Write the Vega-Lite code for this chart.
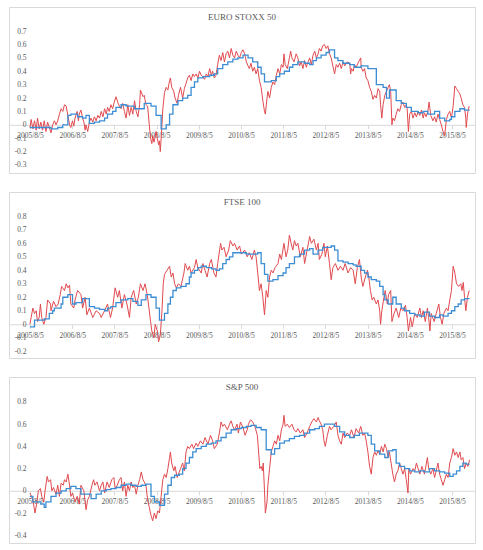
{
  "$schema": "https://vega.github.io/schema/vega-lite/v6.json",
  "padding": {"left": 8, "top": 6, "right": 9, "bottom": 5},
  "background": "white",
  "spacing": 17,
  "datasets": {
    "e_r": [
      {"t":2005.59,"v":-0.02},{"t":2005.62,"v":0.04},{"t":2005.66,"v":-0.03},{"t":2005.70,"v":0.03},{"t":2005.74,"v":-0.04},{"t":2005.77,"v":0.05},{"t":2005.81,"v":-0.03},{"t":2005.85,"v":0.02},{"t":2005.89,"v":-0.04},{"t":2005.93,"v":0.03},{"t":2005.97,"v":-0.05},{"t":2006.01,"v":0.02},{"t":2006.05,"v":-0.02},{"t":2006.09,"v":-0.06},{"t":2006.13,"v":0.0},{"t":2006.17,"v":0.03},{"t":2006.21,"v":0.0},{"t":2006.25,"v":0.03},{"t":2006.29,"v":0.08},{"t":2006.33,"v":0.12},{"t":2006.37,"v":0.1},{"t":2006.41,"v":0.15},{"t":2006.45,"v":0.14},{"t":2006.49,"v":0.07},{"t":2006.53,"v":0.0},{"t":2006.56,"v":-0.02},{"t":2006.60,"v":0.03},{"t":2006.63,"v":-0.01},{"t":2006.66,"v":0.05},{"t":2006.71,"v":0.1},{"t":2006.74,"v":0.03},{"t":2006.76,"v":0.08},{"t":2006.80,"v":0.11},{"t":2006.84,"v":0.05},{"t":2006.87,"v":0.02},{"t":2006.90,"v":-0.04},{"t":2006.92,"v":0.0},{"t":2006.96,"v":-0.05},{"t":2007.00,"v":0.02},{"t":2007.04,"v":0.05},{"t":2007.08,"v":0.02},{"t":2007.12,"v":0.06},{"t":2007.16,"v":0.03},{"t":2007.20,"v":0.07},{"t":2007.24,"v":0.05},{"t":2007.28,"v":0.1},{"t":2007.32,"v":0.06},{"t":2007.36,"v":0.12},{"t":2007.40,"v":0.08},{"t":2007.43,"v":0.13},{"t":2007.47,"v":0.1},{"t":2007.51,"v":0.15},{"t":2007.55,"v":0.12},{"t":2007.59,"v":0.17},{"t":2007.63,"v":0.21},{"t":2007.67,"v":0.17},{"t":2007.71,"v":0.14},{"t":2007.75,"v":0.12},{"t":2007.79,"v":0.16},{"t":2007.83,"v":0.1},{"t":2007.87,"v":0.05},{"t":2007.91,"v":0.15},{"t":2007.95,"v":0.07},{"t":2007.99,"v":0.13},{"t":2008.03,"v":0.08},{"t":2008.07,"v":0.18},{"t":2008.11,"v":0.1},{"t":2008.15,"v":0.06},{"t":2008.19,"v":0.15},{"t":2008.21,"v":0.26},{"t":2008.27,"v":0.21},{"t":2008.30,"v":0.22},{"t":2008.34,"v":0.15},{"t":2008.38,"v":0.14},{"t":2008.42,"v":0.0},{"t":2008.45,"v":-0.1},{"t":2008.48,"v":-0.14},{"t":2008.50,"v":-0.08},{"t":2008.53,"v":-0.13},{"t":2008.56,"v":-0.09},{"t":2008.58,"v":-0.05},{"t":2008.61,"v":-0.1},{"t":2008.64,"v":-0.15},{"t":2008.66,"v":-0.12},{"t":2008.68,"v":-0.2},{"t":2008.72,"v":0.0},{"t":2008.74,"v":0.12},{"t":2008.78,"v":0.24},{"t":2008.82,"v":0.28},{"t":2008.86,"v":0.26},{"t":2008.90,"v":0.33},{"t":2008.92,"v":0.35},{"t":2008.95,"v":0.28},{"t":2009.00,"v":0.25},{"t":2009.03,"v":0.2},{"t":2009.08,"v":0.16},{"t":2009.11,"v":0.22},{"t":2009.16,"v":0.28},{"t":2009.21,"v":0.2},{"t":2009.25,"v":0.27},{"t":2009.29,"v":0.31},{"t":2009.33,"v":0.35},{"t":2009.37,"v":0.37},{"t":2009.41,"v":0.33},{"t":2009.45,"v":0.38},{"t":2009.49,"v":0.36},{"t":2009.53,"v":0.38},{"t":2009.57,"v":0.35},{"t":2009.61,"v":0.4},{"t":2009.65,"v":0.37},{"t":2009.69,"v":0.36},{"t":2009.73,"v":0.34},{"t":2009.77,"v":0.38},{"t":2009.81,"v":0.36},{"t":2009.85,"v":0.42},{"t":2009.89,"v":0.37},{"t":2009.92,"v":0.4},{"t":2009.96,"v":0.35},{"t":2010.00,"v":0.37},{"t":2010.04,"v":0.45},{"t":2010.08,"v":0.52},{"t":2010.12,"v":0.48},{"t":2010.16,"v":0.54},{"t":2010.20,"v":0.47},{"t":2010.24,"v":0.53},{"t":2010.28,"v":0.55},{"t":2010.32,"v":0.5},{"t":2010.36,"v":0.57},{"t":2010.40,"v":0.52},{"t":2010.44,"v":0.5},{"t":2010.48,"v":0.55},{"t":2010.52,"v":0.52},{"t":2010.56,"v":0.5},{"t":2010.60,"v":0.54},{"t":2010.64,"v":0.56},{"t":2010.68,"v":0.53},{"t":2010.72,"v":0.47},{"t":2010.76,"v":0.44},{"t":2010.79,"v":0.42},{"t":2010.83,"v":0.46},{"t":2010.87,"v":0.4},{"t":2010.91,"v":0.43},{"t":2010.95,"v":0.38},{"t":2010.99,"v":0.42},{"t":2011.03,"v":0.33},{"t":2011.07,"v":0.28},{"t":2011.11,"v":0.18},{"t":2011.15,"v":0.1},{"t":2011.17,"v":0.08},{"t":2011.21,"v":0.2},{"t":2011.23,"v":0.25},{"t":2011.27,"v":0.2},{"t":2011.31,"v":0.28},{"t":2011.35,"v":0.32},{"t":2011.39,"v":0.3},{"t":2011.43,"v":0.37},{"t":2011.47,"v":0.42},{"t":2011.51,"v":0.38},{"t":2011.55,"v":0.45},{"t":2011.59,"v":0.43},{"t":2011.61,"v":0.53},{"t":2011.64,"v":0.45},{"t":2011.69,"v":0.42},{"t":2011.74,"v":0.5},{"t":2011.77,"v":0.55},{"t":2011.80,"v":0.5},{"t":2011.85,"v":0.47},{"t":2011.90,"v":0.53},{"t":2011.94,"v":0.5},{"t":2011.98,"v":0.44},{"t":2012.02,"v":0.47},{"t":2012.06,"v":0.42},{"t":2012.10,"v":0.48},{"t":2012.14,"v":0.43},{"t":2012.16,"v":0.45},{"t":2012.22,"v":0.5},{"t":2012.26,"v":0.45},{"t":2012.30,"v":0.52},{"t":2012.34,"v":0.55},{"t":2012.38,"v":0.5},{"t":2012.42,"v":0.53},{"t":2012.45,"v":0.57},{"t":2012.49,"v":0.55},{"t":2012.53,"v":0.59},{"t":2012.57,"v":0.6},{"t":2012.61,"v":0.57},{"t":2012.65,"v":0.59},{"t":2012.69,"v":0.53},{"t":2012.73,"v":0.5},{"t":2012.77,"v":0.44},{"t":2012.81,"v":0.38},{"t":2012.85,"v":0.45},{"t":2012.89,"v":0.43},{"t":2012.93,"v":0.46},{"t":2012.97,"v":0.42},{"t":2013.01,"v":0.47},{"t":2013.05,"v":0.44},{"t":2013.11,"v":0.47},{"t":2013.17,"v":0.46},{"t":2013.19,"v":0.38},{"t":2013.21,"v":0.42},{"t":2013.25,"v":0.4},{"t":2013.28,"v":0.45},{"t":2013.32,"v":0.43},{"t":2013.38,"v":0.47},{"t":2013.43,"v":0.5},{"t":2013.44,"v":0.43},{"t":2013.48,"v":0.4},{"t":2013.52,"v":0.42},{"t":2013.56,"v":0.35},{"t":2013.60,"v":0.33},{"t":2013.64,"v":0.28},{"t":2013.68,"v":0.25},{"t":2013.72,"v":0.19},{"t":2013.76,"v":0.22},{"t":2013.80,"v":0.2},{"t":2013.84,"v":0.27},{"t":2013.88,"v":0.25},{"t":2013.90,"v":0.15},{"t":2013.93,"v":0.05},{"t":2013.96,"v":0.15},{"t":2014.00,"v":0.22},{"t":2014.04,"v":0.25},{"t":2014.08,"v":0.28},{"t":2014.11,"v":0.3},{"t":2014.14,"v":0.25},{"t":2014.17,"v":0.0},{"t":2014.19,"v":0.05},{"t":2014.23,"v":0.03},{"t":2014.27,"v":0.08},{"t":2014.31,"v":0.12},{"t":2014.35,"v":0.1},{"t":2014.39,"v":0.15},{"t":2014.43,"v":0.17},{"t":2014.47,"v":0.13},{"t":2014.51,"v":0.15},{"t":2014.53,"v":0.12},{"t":2014.56,"v":-0.05},{"t":2014.59,"v":0.08},{"t":2014.63,"v":0.1},{"t":2014.67,"v":0.05},{"t":2014.71,"v":0.09},{"t":2014.75,"v":0.06},{"t":2014.79,"v":0.1},{"t":2014.83,"v":0.07},{"t":2014.87,"v":0.11},{"t":2014.91,"v":0.05},{"t":2014.94,"v":0.09},{"t":2014.98,"v":0.06},{"t":2015.02,"v":0.1},{"t":2015.05,"v":0.17},{"t":2015.09,"v":0.07},{"t":2015.14,"v":0.03},{"t":2015.18,"v":0.06},{"t":2015.22,"v":0.02},{"t":2015.26,"v":0.08},{"t":2015.30,"v":0.04},{"t":2015.34,"v":0.0},{"t":2015.38,"v":-0.05},{"t":2015.42,"v":-0.08},{"t":2015.46,"v":0.04},{"t":2015.50,"v":0.08},{"t":2015.54,"v":0.1},{"t":2015.58,"v":0.05},{"t":2015.62,"v":0.14},{"t":2015.66,"v":0.29},{"t":2015.70,"v":0.27},{"t":2015.74,"v":0.25},{"t":2015.78,"v":0.23},{"t":2015.81,"v":0.2},{"t":2015.85,"v":0.15},{"t":2015.89,"v":0.13},{"t":2015.92,"v":0.05},{"t":2015.93,"v":-0.02},{"t":2015.96,"v":0.08},{"t":2015.97,"v":0.1},{"t":2016.00,"v":0.14}
    ],
    "e_b": [
      {"t":2005.59,"v":-0.02},{"t":2006.09,"v":-0.03},{"t":2006.25,"v":-0.02},{"t":2006.37,"v":0.0},{"t":2006.49,"v":0.07},{"t":2006.56,"v":0.08},{"t":2006.72,"v":0.06},{"t":2006.84,"v":0.05},{"t":2006.92,"v":0.07},{"t":2007.00,"v":0.01},{"t":2007.12,"v":0.02},{"t":2007.24,"v":0.03},{"t":2007.36,"v":0.05},{"t":2007.43,"v":0.08},{"t":2007.55,"v":0.1},{"t":2007.63,"v":0.13},{"t":2007.75,"v":0.15},{"t":2007.87,"v":0.14},{"t":2008.07,"v":0.12},{"t":2008.30,"v":0.16},{"t":2008.46,"v":0.14},{"t":2008.58,"v":0.07},{"t":2008.70,"v":-0.03},{"t":2008.82,"v":0.0},{"t":2008.90,"v":0.08},{"t":2008.98,"v":0.15},{"t":2009.10,"v":0.18},{"t":2009.21,"v":0.2},{"t":2009.33,"v":0.22},{"t":2009.41,"v":0.28},{"t":2009.49,"v":0.32},{"t":2009.57,"v":0.35},{"t":2009.69,"v":0.36},{"t":2009.85,"v":0.37},{"t":2009.96,"v":0.38},{"t":2010.04,"v":0.42},{"t":2010.16,"v":0.45},{"t":2010.28,"v":0.47},{"t":2010.40,"v":0.49},{"t":2010.52,"v":0.5},{"t":2010.64,"v":0.52},{"t":2010.76,"v":0.5},{"t":2010.87,"v":0.47},{"t":2010.99,"v":0.43},{"t":2011.07,"v":0.38},{"t":2011.15,"v":0.32},{"t":2011.31,"v":0.33},{"t":2011.43,"v":0.36},{"t":2011.51,"v":0.38},{"t":2011.62,"v":0.4},{"t":2011.74,"v":0.43},{"t":2011.82,"v":0.45},{"t":2011.94,"v":0.47},{"t":2012.10,"v":0.46},{"t":2012.22,"v":0.45},{"t":2012.30,"v":0.48},{"t":2012.38,"v":0.5},{"t":2012.49,"v":0.52},{"t":2012.61,"v":0.54},{"t":2012.69,"v":0.56},{"t":2012.81,"v":0.5},{"t":2012.89,"v":0.48},{"t":2013.01,"v":0.46},{"t":2013.17,"v":0.45},{"t":2013.28,"v":0.43},{"t":2013.44,"v":0.44},{"t":2013.60,"v":0.42},{"t":2013.80,"v":0.3},{"t":2013.96,"v":0.28},{"t":2014.04,"v":0.2},{"t":2014.11,"v":0.26},{"t":2014.27,"v":0.18},{"t":2014.39,"v":0.16},{"t":2014.51,"v":0.13},{"t":2014.63,"v":0.1},{"t":2014.79,"v":0.09},{"t":2014.91,"v":0.1},{"t":2015.02,"v":0.08},{"t":2015.18,"v":0.1},{"t":2015.30,"v":0.05},{"t":2015.42,"v":0.03},{"t":2015.54,"v":0.04},{"t":2015.58,"v":0.06},{"t":2015.66,"v":0.1},{"t":2015.78,"v":0.12},{"t":2015.89,"v":0.11},{"t":2016.01,"v":0.11}
    ],
    "f_r": [
      {"t":2005.59,"v":0.0},{"t":2005.62,"v":0.05},{"t":2005.66,"v":0.12},{"t":2005.70,"v":0.08},{"t":2005.74,"v":0.1},{"t":2005.77,"v":0.02},{"t":2005.81,"v":0.05},{"t":2005.84,"v":0.15},{"t":2005.87,"v":0.05},{"t":2005.92,"v":0.0},{"t":2005.97,"v":0.05},{"t":2006.01,"v":0.18},{"t":2006.08,"v":0.15},{"t":2006.09,"v":0.1},{"t":2006.15,"v":0.17},{"t":2006.21,"v":0.13},{"t":2006.26,"v":0.15},{"t":2006.31,"v":0.22},{"t":2006.34,"v":0.28},{"t":2006.41,"v":0.25},{"t":2006.45,"v":0.3},{"t":2006.49,"v":0.27},{"t":2006.53,"v":0.29},{"t":2006.56,"v":0.15},{"t":2006.63,"v":0.12},{"t":2006.66,"v":0.18},{"t":2006.72,"v":0.25},{"t":2006.80,"v":0.22},{"t":2006.84,"v":0.12},{"t":2006.90,"v":0.2},{"t":2006.94,"v":0.07},{"t":2007.00,"v":0.12},{"t":2007.08,"v":0.05},{"t":2007.16,"v":0.1},{"t":2007.24,"v":0.08},{"t":2007.28,"v":0.05},{"t":2007.36,"v":0.1},{"t":2007.43,"v":0.15},{"t":2007.50,"v":0.05},{"t":2007.55,"v":0.12},{"t":2007.61,"v":0.27},{"t":2007.67,"v":0.2},{"t":2007.71,"v":0.25},{"t":2007.77,"v":0.12},{"t":2007.83,"v":0.22},{"t":2007.89,"v":0.15},{"t":2007.95,"v":0.05},{"t":2007.99,"v":0.2},{"t":2008.05,"v":0.25},{"t":2008.11,"v":0.15},{"t":2008.16,"v":0.2},{"t":2008.21,"v":0.3},{"t":2008.27,"v":0.25},{"t":2008.32,"v":0.3},{"t":2008.37,"v":0.22},{"t":2008.40,"v":0.15},{"t":2008.45,"v":0.02},{"t":2008.48,"v":-0.05},{"t":2008.53,"v":-0.1},{"t":2008.56,"v":0.0},{"t":2008.61,"v":-0.05},{"t":2008.64,"v":-0.13},{"t":2008.68,"v":-0.08},{"t":2008.72,"v":0.1},{"t":2008.75,"v":0.3},{"t":2008.78,"v":0.37},{"t":2008.84,"v":0.4},{"t":2008.90,"v":0.43},{"t":2008.94,"v":0.35},{"t":2008.98,"v":0.38},{"t":2009.02,"v":0.3},{"t":2009.06,"v":0.27},{"t":2009.11,"v":0.3},{"t":2009.17,"v":0.28},{"t":2009.24,"v":0.38},{"t":2009.27,"v":0.45},{"t":2009.33,"v":0.4},{"t":2009.37,"v":0.43},{"t":2009.41,"v":0.38},{"t":2009.49,"v":0.42},{"t":2009.53,"v":0.48},{"t":2009.57,"v":0.42},{"t":2009.65,"v":0.38},{"t":2009.69,"v":0.45},{"t":2009.74,"v":0.4},{"t":2009.79,"v":0.35},{"t":2009.85,"v":0.45},{"t":2009.89,"v":0.48},{"t":2009.95,"v":0.38},{"t":2010.00,"v":0.35},{"t":2010.04,"v":0.45},{"t":2010.11,"v":0.6},{"t":2010.14,"v":0.55},{"t":2010.19,"v":0.57},{"t":2010.24,"v":0.5},{"t":2010.30,"v":0.55},{"t":2010.34,"v":0.62},{"t":2010.40,"v":0.58},{"t":2010.44,"v":0.6},{"t":2010.50,"v":0.55},{"t":2010.56,"v":0.58},{"t":2010.60,"v":0.52},{"t":2010.68,"v":0.55},{"t":2010.74,"v":0.5},{"t":2010.79,"v":0.53},{"t":2010.85,"v":0.48},{"t":2010.91,"v":0.55},{"t":2010.95,"v":0.5},{"t":2010.99,"v":0.38},{"t":2011.03,"v":0.25},{"t":2011.07,"v":0.3},{"t":2011.11,"v":0.2},{"t":2011.15,"v":0.07},{"t":2011.19,"v":0.25},{"t":2011.23,"v":0.2},{"t":2011.27,"v":0.35},{"t":2011.31,"v":0.4},{"t":2011.35,"v":0.38},{"t":2011.40,"v":0.42},{"t":2011.47,"v":0.45},{"t":2011.51,"v":0.52},{"t":2011.55,"v":0.48},{"t":2011.61,"v":0.6},{"t":2011.66,"v":0.5},{"t":2011.70,"v":0.55},{"t":2011.74,"v":0.66},{"t":2011.78,"v":0.6},{"t":2011.82,"v":0.55},{"t":2011.86,"v":0.62},{"t":2011.90,"v":0.58},{"t":2011.94,"v":0.6},{"t":2012.00,"v":0.5},{"t":2012.06,"v":0.57},{"t":2012.10,"v":0.45},{"t":2012.16,"v":0.55},{"t":2012.22,"v":0.65},{"t":2012.26,"v":0.6},{"t":2012.32,"v":0.63},{"t":2012.38,"v":0.55},{"t":2012.42,"v":0.6},{"t":2012.45,"v":0.48},{"t":2012.51,"v":0.52},{"t":2012.56,"v":0.6},{"t":2012.59,"v":0.5},{"t":2012.64,"v":0.58},{"t":2012.69,"v":0.45},{"t":2012.73,"v":0.33},{"t":2012.77,"v":0.42},{"t":2012.83,"v":0.45},{"t":2012.89,"v":0.4},{"t":2012.95,"v":0.43},{"t":2013.01,"v":0.4},{"t":2013.06,"v":0.45},{"t":2013.13,"v":0.38},{"t":2013.19,"v":0.42},{"t":2013.25,"v":0.4},{"t":2013.30,"v":0.3},{"t":2013.35,"v":0.42},{"t":2013.40,"v":0.48},{"t":2013.44,"v":0.35},{"t":2013.48,"v":0.28},{"t":2013.54,"v":0.35},{"t":2013.59,"v":0.4},{"t":2013.62,"v":0.35},{"t":2013.66,"v":0.25},{"t":2013.70,"v":0.18},{"t":2013.74,"v":0.2},{"t":2013.80,"v":0.15},{"t":2013.84,"v":0.18},{"t":2013.88,"v":0.1},{"t":2013.90,"v":0.0},{"t":2013.93,"v":0.1},{"t":2013.98,"v":0.2},{"t":2014.01,"v":0.25},{"t":2014.06,"v":0.15},{"t":2014.09,"v":0.22},{"t":2014.14,"v":0.25},{"t":2014.17,"v":0.02},{"t":2014.22,"v":0.08},{"t":2014.27,"v":0.12},{"t":2014.33,"v":0.05},{"t":2014.38,"v":0.12},{"t":2014.43,"v":0.1},{"t":2014.49,"v":0.14},{"t":2014.53,"v":0.05},{"t":2014.56,"v":-0.05},{"t":2014.61,"v":0.05},{"t":2014.65,"v":-0.02},{"t":2014.71,"v":0.08},{"t":2014.77,"v":0.05},{"t":2014.83,"v":0.12},{"t":2014.87,"v":0.05},{"t":2014.91,"v":0.1},{"t":2014.96,"v":0.02},{"t":2015.01,"v":0.12},{"t":2015.04,"v":0.05},{"t":2015.07,"v":-0.05},{"t":2015.10,"v":0.08},{"t":2015.17,"v":0.02},{"t":2015.22,"v":0.08},{"t":2015.28,"v":0.15},{"t":2015.32,"v":0.05},{"t":2015.36,"v":0.0},{"t":2015.40,"v":0.08},{"t":2015.46,"v":0.12},{"t":2015.50,"v":0.1},{"t":2015.54,"v":0.18},{"t":2015.58,"v":0.25},{"t":2015.62,"v":0.43},{"t":2015.66,"v":0.38},{"t":2015.70,"v":0.3},{"t":2015.75,"v":0.28},{"t":2015.80,"v":0.3},{"t":2015.83,"v":0.25},{"t":2015.86,"v":0.31},{"t":2015.89,"v":0.2},{"t":2015.92,"v":0.1},{"t":2015.96,"v":0.2},{"t":2016.00,"v":0.25}
    ],
    "f_b": [
      {"t":2005.59,"v":-0.02},{"t":2005.70,"v":0.03},{"t":2005.93,"v":0.04},{"t":2006.05,"v":0.08},{"t":2006.13,"v":0.1},{"t":2006.17,"v":0.12},{"t":2006.33,"v":0.15},{"t":2006.37,"v":0.2},{"t":2006.49,"v":0.22},{"t":2006.60,"v":0.15},{"t":2006.68,"v":0.16},{"t":2006.84,"v":0.19},{"t":2007.00,"v":0.13},{"t":2007.12,"v":0.12},{"t":2007.24,"v":0.11},{"t":2007.36,"v":0.1},{"t":2007.43,"v":0.12},{"t":2007.51,"v":0.13},{"t":2007.63,"v":0.16},{"t":2007.75,"v":0.18},{"t":2007.91,"v":0.19},{"t":2008.03,"v":0.17},{"t":2008.15,"v":0.14},{"t":2008.23,"v":0.18},{"t":2008.34,"v":0.22},{"t":2008.46,"v":0.2},{"t":2008.58,"v":0.12},{"t":2008.66,"v":0.03},{"t":2008.78,"v":0.08},{"t":2008.86,"v":0.15},{"t":2008.92,"v":0.2},{"t":2008.98,"v":0.25},{"t":2009.06,"v":0.27},{"t":2009.17,"v":0.28},{"t":2009.29,"v":0.3},{"t":2009.37,"v":0.35},{"t":2009.41,"v":0.38},{"t":2009.49,"v":0.4},{"t":2009.57,"v":0.42},{"t":2009.65,"v":0.43},{"t":2009.77,"v":0.42},{"t":2009.89,"v":0.41},{"t":2010.00,"v":0.4},{"t":2010.08,"v":0.41},{"t":2010.16,"v":0.45},{"t":2010.24,"v":0.48},{"t":2010.32,"v":0.5},{"t":2010.40,"v":0.53},{"t":2010.72,"v":0.52},{"t":2010.99,"v":0.53},{"t":2011.07,"v":0.45},{"t":2011.15,"v":0.37},{"t":2011.23,"v":0.32},{"t":2011.35,"v":0.33},{"t":2011.47,"v":0.36},{"t":2011.59,"v":0.38},{"t":2011.66,"v":0.42},{"t":2011.74,"v":0.45},{"t":2011.86,"v":0.5},{"t":2011.98,"v":0.52},{"t":2012.10,"v":0.55},{"t":2012.22,"v":0.56},{"t":2012.30,"v":0.52},{"t":2012.42,"v":0.55},{"t":2012.53,"v":0.57},{"t":2012.73,"v":0.58},{"t":2012.81,"v":0.55},{"t":2012.89,"v":0.47},{"t":2013.01,"v":0.46},{"t":2013.13,"v":0.45},{"t":2013.25,"v":0.44},{"t":2013.32,"v":0.43},{"t":2013.44,"v":0.4},{"t":2013.52,"v":0.38},{"t":2013.60,"v":0.35},{"t":2013.68,"v":0.33},{"t":2013.80,"v":0.32},{"t":2013.88,"v":0.28},{"t":2013.96,"v":0.22},{"t":2014.00,"v":0.18},{"t":2014.08,"v":0.15},{"t":2014.19,"v":0.2},{"t":2014.27,"v":0.15},{"t":2014.39,"v":0.12},{"t":2014.47,"v":0.1},{"t":2014.59,"v":0.08},{"t":2014.71,"v":0.07},{"t":2014.83,"v":0.06},{"t":2014.94,"v":0.09},{"t":2015.06,"v":0.06},{"t":2015.18,"v":0.05},{"t":2015.30,"v":0.07},{"t":2015.38,"v":0.06},{"t":2015.50,"v":0.08},{"t":2015.58,"v":0.1},{"t":2015.66,"v":0.13},{"t":2015.74,"v":0.15},{"t":2015.81,"v":0.18},{"t":2015.89,"v":0.19},{"t":2016.01,"v":0.19}
    ],
    "s_r": [
      {"t":2005.59,"v":-0.02},{"t":2005.63,"v":-0.05},{"t":2005.67,"v":-0.1},{"t":2005.71,"v":-0.2},{"t":2005.75,"v":-0.12},{"t":2005.79,"v":0.0},{"t":2005.84,"v":0.02},{"t":2005.87,"v":-0.05},{"t":2005.92,"v":-0.1},{"t":2005.95,"v":0.0},{"t":2006.00,"v":0.13},{"t":2006.03,"v":0.08},{"t":2006.08,"v":0.1},{"t":2006.11,"v":0.0},{"t":2006.15,"v":0.03},{"t":2006.21,"v":-0.03},{"t":2006.25,"v":0.05},{"t":2006.29,"v":-0.05},{"t":2006.33,"v":0.07},{"t":2006.38,"v":0.05},{"t":2006.41,"v":0.1},{"t":2006.45,"v":0.08},{"t":2006.49,"v":0.15},{"t":2006.53,"v":0.05},{"t":2006.56,"v":-0.05},{"t":2006.60,"v":-0.02},{"t":2006.66,"v":-0.1},{"t":2006.71,"v":-0.05},{"t":2006.76,"v":-0.12},{"t":2006.80,"v":0.05},{"t":2006.87,"v":0.0},{"t":2006.90,"v":-0.1},{"t":2006.92,"v":-0.17},{"t":2006.96,"v":-0.08},{"t":2007.00,"v":-0.05},{"t":2007.06,"v":0.05},{"t":2007.10,"v":0.1},{"t":2007.13,"v":0.05},{"t":2007.18,"v":0.08},{"t":2007.24,"v":0.0},{"t":2007.28,"v":0.05},{"t":2007.32,"v":0.08},{"t":2007.36,"v":-0.02},{"t":2007.42,"v":0.08},{"t":2007.47,"v":0.03},{"t":2007.53,"v":0.1},{"t":2007.58,"v":0.12},{"t":2007.61,"v":0.02},{"t":2007.66,"v":0.05},{"t":2007.71,"v":0.1},{"t":2007.75,"v":0.12},{"t":2007.79,"v":0.0},{"t":2007.83,"v":0.08},{"t":2007.87,"v":-0.05},{"t":2007.91,"v":0.05},{"t":2007.95,"v":0.0},{"t":2007.99,"v":0.08},{"t":2008.03,"v":0.03},{"t":2008.07,"v":0.05},{"t":2008.11,"v":-0.03},{"t":2008.15,"v":0.05},{"t":2008.19,"v":0.1},{"t":2008.23,"v":0.17},{"t":2008.27,"v":0.1},{"t":2008.30,"v":0.08},{"t":2008.34,"v":0.05},{"t":2008.38,"v":-0.08},{"t":2008.42,"v":-0.15},{"t":2008.46,"v":-0.22},{"t":2008.50,"v":-0.27},{"t":2008.54,"v":-0.2},{"t":2008.58,"v":-0.25},{"t":2008.62,"v":-0.18},{"t":2008.66,"v":-0.2},{"t":2008.70,"v":-0.05},{"t":2008.74,"v":0.1},{"t":2008.78,"v":0.15},{"t":2008.82,"v":0.12},{"t":2008.86,"v":0.2},{"t":2008.90,"v":0.3},{"t":2008.92,"v":0.35},{"t":2008.95,"v":0.25},{"t":2009.00,"v":0.18},{"t":2009.03,"v":0.22},{"t":2009.08,"v":0.12},{"t":2009.11,"v":0.15},{"t":2009.16,"v":0.2},{"t":2009.21,"v":0.25},{"t":2009.25,"v":0.18},{"t":2009.29,"v":0.35},{"t":2009.33,"v":0.4},{"t":2009.37,"v":0.38},{"t":2009.43,"v":0.42},{"t":2009.47,"v":0.38},{"t":2009.53,"v":0.43},{"t":2009.57,"v":0.4},{"t":2009.63,"v":0.45},{"t":2009.69,"v":0.42},{"t":2009.74,"v":0.48},{"t":2009.81,"v":0.42},{"t":2009.87,"v":0.5},{"t":2009.92,"v":0.45},{"t":2009.96,"v":0.38},{"t":2010.03,"v":0.42},{"t":2010.08,"v":0.52},{"t":2010.12,"v":0.62},{"t":2010.16,"v":0.58},{"t":2010.20,"v":0.6},{"t":2010.27,"v":0.55},{"t":2010.32,"v":0.6},{"t":2010.36,"v":0.63},{"t":2010.40,"v":0.58},{"t":2010.44,"v":0.55},{"t":2010.50,"v":0.6},{"t":2010.53,"v":0.52},{"t":2010.58,"v":0.62},{"t":2010.64,"v":0.57},{"t":2010.69,"v":0.5},{"t":2010.74,"v":0.55},{"t":2010.77,"v":0.6},{"t":2010.82,"v":0.64},{"t":2010.87,"v":0.62},{"t":2010.93,"v":0.57},{"t":2010.98,"v":0.5},{"t":2011.01,"v":0.35},{"t":2011.04,"v":0.2},{"t":2011.07,"v":0.22},{"t":2011.10,"v":0.18},{"t":2011.12,"v":0.25},{"t":2011.15,"v":0.0},{"t":2011.17,"v":-0.2},{"t":2011.21,"v":-0.1},{"t":2011.23,"v":0.05},{"t":2011.27,"v":0.2},{"t":2011.31,"v":0.35},{"t":2011.35,"v":0.4},{"t":2011.39,"v":0.45},{"t":2011.43,"v":0.42},{"t":2011.47,"v":0.5},{"t":2011.51,"v":0.45},{"t":2011.55,"v":0.55},{"t":2011.59,"v":0.6},{"t":2011.61,"v":0.68},{"t":2011.64,"v":0.58},{"t":2011.69,"v":0.6},{"t":2011.74,"v":0.57},{"t":2011.80,"v":0.6},{"t":2011.85,"v":0.55},{"t":2011.90,"v":0.53},{"t":2011.94,"v":0.56},{"t":2012.00,"v":0.52},{"t":2012.06,"v":0.55},{"t":2012.10,"v":0.48},{"t":2012.16,"v":0.52},{"t":2012.22,"v":0.58},{"t":2012.27,"v":0.62},{"t":2012.32,"v":0.65},{"t":2012.38,"v":0.62},{"t":2012.42,"v":0.66},{"t":2012.45,"v":0.63},{"t":2012.49,"v":0.6},{"t":2012.53,"v":0.55},{"t":2012.56,"v":0.45},{"t":2012.59,"v":0.4},{"t":2012.64,"v":0.5},{"t":2012.69,"v":0.58},{"t":2012.73,"v":0.55},{"t":2012.79,"v":0.58},{"t":2012.85,"v":0.62},{"t":2012.89,"v":0.5},{"t":2012.93,"v":0.45},{"t":2012.97,"v":0.42},{"t":2013.01,"v":0.52},{"t":2013.05,"v":0.48},{"t":2013.11,"v":0.52},{"t":2013.17,"v":0.5},{"t":2013.21,"v":0.55},{"t":2013.27,"v":0.48},{"t":2013.32,"v":0.56},{"t":2013.38,"v":0.52},{"t":2013.43,"v":0.58},{"t":2013.48,"v":0.5},{"t":2013.52,"v":0.52},{"t":2013.56,"v":0.45},{"t":2013.60,"v":0.35},{"t":2013.64,"v":0.22},{"t":2013.68,"v":0.15},{"t":2013.72,"v":0.3},{"t":2013.76,"v":0.35},{"t":2013.80,"v":0.32},{"t":2013.84,"v":0.36},{"t":2013.88,"v":0.33},{"t":2013.92,"v":0.4},{"t":2013.96,"v":0.35},{"t":2014.00,"v":0.42},{"t":2014.04,"v":0.38},{"t":2014.08,"v":0.3},{"t":2014.11,"v":0.35},{"t":2014.15,"v":0.25},{"t":2014.19,"v":0.15},{"t":2014.23,"v":0.08},{"t":2014.27,"v":0.15},{"t":2014.31,"v":0.18},{"t":2014.35,"v":0.25},{"t":2014.39,"v":0.2},{"t":2014.43,"v":0.15},{"t":2014.47,"v":0.2},{"t":2014.51,"v":0.1},{"t":2014.55,"v":-0.02},{"t":2014.57,"v":0.2},{"t":2014.61,"v":0.15},{"t":2014.67,"v":0.2},{"t":2014.71,"v":0.18},{"t":2014.75,"v":0.25},{"t":2014.79,"v":0.2},{"t":2014.83,"v":0.15},{"t":2014.88,"v":0.22},{"t":2014.94,"v":0.15},{"t":2015.01,"v":0.3},{"t":2015.04,"v":0.2},{"t":2015.09,"v":0.15},{"t":2015.14,"v":0.2},{"t":2015.18,"v":0.12},{"t":2015.22,"v":0.18},{"t":2015.26,"v":0.25},{"t":2015.30,"v":0.15},{"t":2015.34,"v":0.1},{"t":2015.38,"v":0.05},{"t":2015.42,"v":0.1},{"t":2015.46,"v":0.15},{"t":2015.50,"v":0.12},{"t":2015.54,"v":0.25},{"t":2015.58,"v":0.3},{"t":2015.62,"v":0.38},{"t":2015.66,"v":0.32},{"t":2015.70,"v":0.35},{"t":2015.74,"v":0.3},{"t":2015.78,"v":0.35},{"t":2015.81,"v":0.28},{"t":2015.85,"v":0.3},{"t":2015.89,"v":0.2},{"t":2015.93,"v":0.25},{"t":2015.97,"v":0.22},{"t":2016.01,"v":0.28}
    ],
    "s_b": [
      {"t":2005.59,"v":-0.05},{"t":2005.66,"v":-0.1},{"t":2005.85,"v":-0.12},{"t":2005.93,"v":-0.15},{"t":2005.97,"v":-0.1},{"t":2006.09,"v":-0.05},{"t":2006.21,"v":-0.02},{"t":2006.33,"v":0.0},{"t":2006.45,"v":0.02},{"t":2006.56,"v":0.04},{"t":2006.68,"v":0.02},{"t":2006.80,"v":-0.03},{"t":2007.04,"v":-0.07},{"t":2007.16,"v":-0.03},{"t":2007.28,"v":0.0},{"t":2007.40,"v":0.01},{"t":2007.51,"v":0.02},{"t":2007.63,"v":0.03},{"t":2007.75,"v":0.05},{"t":2007.87,"v":0.06},{"t":2007.99,"v":0.05},{"t":2008.11,"v":0.04},{"t":2008.23,"v":0.05},{"t":2008.34,"v":0.06},{"t":2008.46,"v":-0.05},{"t":2008.54,"v":-0.1},{"t":2008.66,"v":-0.13},{"t":2008.78,"v":-0.03},{"t":2008.86,"v":0.05},{"t":2008.94,"v":0.12},{"t":2009.02,"v":0.14},{"t":2009.13,"v":0.15},{"t":2009.21,"v":0.2},{"t":2009.29,"v":0.25},{"t":2009.37,"v":0.3},{"t":2009.45,"v":0.35},{"t":2009.53,"v":0.38},{"t":2009.65,"v":0.4},{"t":2009.77,"v":0.42},{"t":2009.89,"v":0.43},{"t":2010.00,"v":0.45},{"t":2010.12,"v":0.48},{"t":2010.24,"v":0.52},{"t":2010.36,"v":0.55},{"t":2010.48,"v":0.56},{"t":2010.60,"v":0.57},{"t":2010.72,"v":0.58},{"t":2010.83,"v":0.59},{"t":2010.95,"v":0.57},{"t":2011.07,"v":0.55},{"t":2011.19,"v":0.37},{"t":2011.31,"v":0.33},{"t":2011.39,"v":0.38},{"t":2011.51,"v":0.43},{"t":2011.62,"v":0.45},{"t":2011.74,"v":0.47},{"t":2011.86,"v":0.49},{"t":2011.98,"v":0.5},{"t":2012.10,"v":0.52},{"t":2012.22,"v":0.55},{"t":2012.34,"v":0.56},{"t":2012.45,"v":0.58},{"t":2012.57,"v":0.6},{"t":2012.81,"v":0.58},{"t":2012.93,"v":0.53},{"t":2013.05,"v":0.5},{"t":2013.17,"v":0.48},{"t":2013.28,"v":0.5},{"t":2013.40,"v":0.52},{"t":2013.60,"v":0.5},{"t":2013.68,"v":0.42},{"t":2013.76,"v":0.36},{"t":2013.88,"v":0.33},{"t":2014.00,"v":0.3},{"t":2014.08,"v":0.36},{"t":2014.19,"v":0.37},{"t":2014.27,"v":0.25},{"t":2014.35,"v":0.22},{"t":2014.47,"v":0.2},{"t":2014.59,"v":0.18},{"t":2014.71,"v":0.17},{"t":2014.83,"v":0.18},{"t":2014.94,"v":0.17},{"t":2015.06,"v":0.2},{"t":2015.18,"v":0.18},{"t":2015.30,"v":0.17},{"t":2015.42,"v":0.16},{"t":2015.54,"v":0.13},{"t":2015.62,"v":0.15},{"t":2015.70,"v":0.18},{"t":2015.78,"v":0.22},{"t":2015.85,"v":0.25},{"t":2015.93,"v":0.24},{"t":2016.01,"v":0.24}
    ]
  },
  "vconcat": [
    {
      "width": 466,
      "height": 166,
      "title": {"text": "EURO STOXX 50"},
      "layer": [
        {
          "data": {"name": "e_r"},
          "mark": {"type": "line", "color": "#e04a4f", "strokeWidth": 1},
          "encoding": {
            "x": {"field": "t", "type": "quantitative", "scale": {"domain": [2005.095, 2016.138], "nice": false, "zero": false},
              "axis": {"offset": -48.2, "tickCount": 30, "labelOverlap": false, "values": [2005.593, 2006.593, 2007.593, 2008.593, 2009.593, 2010.593, 2011.593, 2012.593, 2013.593, 2014.593, 2015.593], "labelExpr": "floor(datum.value) + '/8/5'"}},
            "y": {"field": "v", "type": "quantitative", "scale": {"domain": [-0.36, 0.88], "nice": false, "zero": false},
              "axis": {"tickCount": 30, "labelOverlap": false, "values": [-0.3, -0.2, -0.1, 0, 0.1, 0.2, 0.3, 0.4, 0.5, 0.6, 0.7]}}
          }
        },
        {
          "data": {"name": "e_b"},
          "mark": {"type": "line", "interpolate": "step-after", "color": "#3c8dd3", "strokeWidth": 1.3},
          "encoding": {
            "x": {"field": "t", "type": "quantitative", "scale": {"domain": [2005.095, 2016.138], "nice": false, "zero": false}},
            "y": {"field": "v", "type": "quantitative", "scale": {"domain": [-0.36, 0.88], "nice": false, "zero": false}}
          }
        }
      ]
    },
    {
      "width": 466,
      "height": 166,
      "title": {"text": "FTSE 100"},
      "layer": [
        {
          "data": {"name": "f_r"},
          "mark": {"type": "line", "color": "#e04a4f", "strokeWidth": 1},
          "encoding": {
            "x": {"field": "t", "type": "quantitative", "scale": {"domain": [2005.095, 2016.138], "nice": false, "zero": false},
              "axis": {"offset": -33.7, "tickCount": 30, "labelOverlap": false, "values": [2005.593, 2006.593, 2007.593, 2008.593, 2009.593, 2010.593, 2011.593, 2012.593, 2013.593, 2014.593, 2015.593], "labelExpr": "floor(datum.value) + '/8/5'"}},
            "y": {"field": "v", "type": "quantitative", "scale": {"domain": [-0.25, 0.98], "nice": false, "zero": false},
              "axis": {"tickCount": 30, "labelOverlap": false, "values": [-0.2, -0.1, 0, 0.1, 0.2, 0.3, 0.4, 0.5, 0.6, 0.7, 0.8]}}
          }
        },
        {
          "data": {"name": "f_b"},
          "mark": {"type": "line", "interpolate": "step-after", "color": "#3c8dd3", "strokeWidth": 1.3},
          "encoding": {
            "x": {"field": "t", "type": "quantitative", "scale": {"domain": [2005.095, 2016.138], "nice": false, "zero": false}},
            "y": {"field": "v", "type": "quantitative", "scale": {"domain": [-0.25, 0.98], "nice": false, "zero": false}}
          }
        }
      ]
    },
    {
      "width": 466,
      "height": 166,
      "title": {"text": "S&P 500"},
      "layer": [
        {
          "data": {"name": "s_r"},
          "mark": {"type": "line", "color": "#e04a4f", "strokeWidth": 1},
          "encoding": {
            "x": {"field": "t", "type": "quantitative", "scale": {"domain": [2005.095, 2016.138], "nice": false, "zero": false},
              "axis": {"offset": -52.2, "tickCount": 30, "labelOverlap": false, "values": [2005.593, 2006.593, 2007.593, 2008.593, 2009.593, 2010.593, 2011.593, 2012.593, 2013.593, 2014.593, 2015.593], "labelExpr": "floor(datum.value) + '/8/5'"}},
            "y": {"field": "v", "type": "quantitative", "scale": {"domain": [-0.47, 1.025], "nice": false, "zero": false},
              "axis": {"tickCount": 30, "labelOverlap": false, "values": [-0.4, -0.2, 0, 0.2, 0.4, 0.6, 0.8]}}
          }
        },
        {
          "data": {"name": "s_b"},
          "mark": {"type": "line", "interpolate": "step-after", "color": "#3c8dd3", "strokeWidth": 1.3},
          "encoding": {
            "x": {"field": "t", "type": "quantitative", "scale": {"domain": [2005.095, 2016.138], "nice": false, "zero": false}},
            "y": {"field": "v", "type": "quantitative", "scale": {"domain": [-0.47, 1.025], "nice": false, "zero": false}}
          }
        }
      ]
    }
  ],
  "config": {
    "view": {"stroke": "#d9d9d9", "strokeWidth": 1},
    "title": {"font": "Liberation Serif", "fontSize": 9, "fontWeight": "normal", "color": "#595959", "anchor": "middle", "frame": "group", "offset": -15},
    "axis": {"labelFont": "Liberation Serif", "labelColor": "#595959", "grid": false, "title": null, "labelOverlap": false, "labelFlush": false, "labelBound": false},
    "axisX": {"domainColor": "#d9d9d9", "tickColor": "#d9d9d9", "tickSize": 4, "labelFontSize": 7.5, "labelPadding": 3, "labelAngle": 0},
    "axisY": {"domain": false, "ticks": false, "offset": -21, "labelPadding": 4, "labelFontSize": 7.5, "labelExpr": "'' + datum.value"}
  }
}
